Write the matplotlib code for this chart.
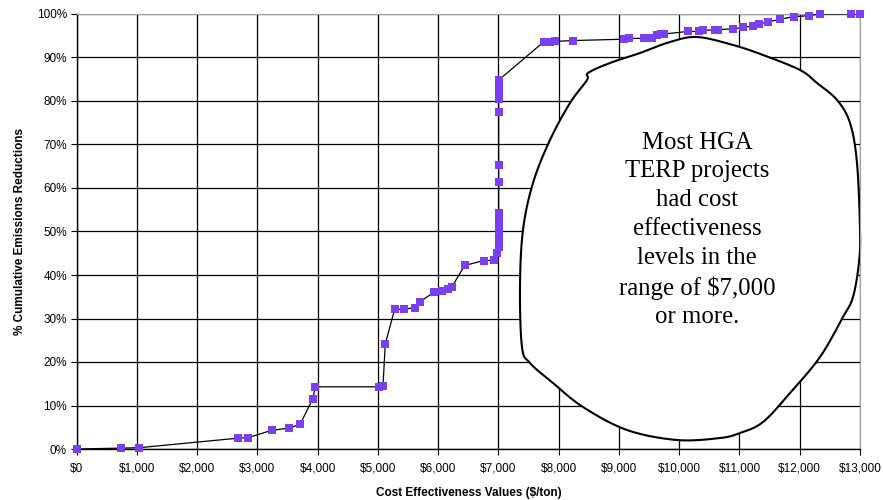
import numpy as np
import matplotlib.pyplot as plt
from matplotlib.path import Path
from matplotlib.patches import PathPatch

# --- data ---
cost = [0, 736, 1040, 2684, 2840, 3239, 3522, 3709, 3920, 3958,
        5010, 5083, 5121, 5276, 5425, 5608, 5703, 5924, 6063, 6156,
        6229, 6439, 6753, 6920, 6977,
        7003, 7003, 7003, 7003, 7003, 7003, 7003, 7003, 7003,
        7003, 7003, 7003, 7003, 7003,
        7751, 7850, 7945, 8239,
        9080, 9163, 9412, 9551, 9635, 9700, 9744,
        10150, 10320, 10400, 10600, 10640, 10900, 11050, 11230,
        11320, 11480, 11680, 11900, 12150, 12330, 12850, 13000]
pct = [0, 0.2, 0.3, 2.5, 2.6, 4.3, 4.8, 5.7, 11.6, 14.3,
       14.3, 14.4, 24.1, 32.1, 32.1, 32.5, 33.9, 36.0, 36.4, 36.7,
       37.3, 42.2, 43.3, 43.4, 45.0,
       46.5, 48.0, 49.5, 51.0, 52.5, 54.2, 61.4, 65.3, 77.5,
       80.5, 81.5, 82.5, 83.5, 84.8,
       93.6, 93.6, 93.7, 93.9,
       94.2, 94.4, 94.4, 94.5, 95.2, 95.3, 95.4,
       96.0, 96.0, 96.3, 96.3, 96.4, 96.6, 96.9, 97.3,
       97.7, 98.2, 98.8, 99.4, 99.6, 100, 100, 100]

x_ticks = np.arange(0, 13001, 1000)
x_labels = ["$0"] + [f"${v:,}" for v in x_ticks[1:]]
y_ticks = np.arange(0, 101, 10)
y_labels = [f"{v}%" for v in y_ticks]

note = ("Most HGA\nTERP projects\nhad cost\neffectiveness\n"
        "levels in the\nrange of $7,000\nor more.")

# outline of the hand-drawn bubble, figure pixels (x, y from top)
blob = [(697, 37), (733, 45), (763, 55), (800, 70), (817, 83), (837, 100),
        (850, 123), (857, 163), (860, 230), (859, 262), (853, 297),
        (843, 317), (820, 357), (790, 393), (763, 422), (740, 433),
        (720, 438), (677, 440), (627, 430), (583, 407), (553, 383),
        (530, 363), (522, 347), (520, 287), (523, 230), (533, 183),
        (550, 140), (570, 103), (587, 80), (588, 73), (610, 63),
        (640, 53), (670, 42)]

plt.rcParams["font.family"] = ["Liberation Sans", "DejaVu Sans"]

W, H = 883, 500
fig = plt.figure(figsize=(W / 100, H / 100), dpi=100)
ax = fig.add_axes([76.7 / W, 1 - 449 / H, (860 - 76.7) / W, (449 - 14) / H])

ax.plot(cost, pct, color="black", linewidth=0.9, zorder=3)
ax.plot(cost, pct, linestyle="none", marker="s", markersize=5.8,
        color="#7a3ff0", markeredgewidth=0, zorder=4, clip_on=False)

ax.set_xlim(0, 13000)
ax.set_ylim(0, 100)
ax.set_xticks(x_ticks)
ax.set_xticklabels(x_labels, fontsize=8.5)
ax.set_yticks(y_ticks)
ax.set_yticklabels(y_labels, fontsize=8.5)
ax.tick_params(axis="x", length=4, width=0.8, color="black", pad=6)
ax.tick_params(axis="y", length=4, width=0.8, color="black", pad=3)
ax.grid(True, color="black", linewidth=0.9)
ax.set_axisbelow(True)
for side in ["top", "right"]:
    ax.spines[side].set_color("#a0a0a0")
for side in ["left", "bottom"]:
    ax.spines[side].set_color("black")
    ax.spines[side].set_linewidth(1.0)

ax.set_xlabel("Cost Effectiveness Values ($/ton)", fontsize=8.5,
              fontweight="bold", labelpad=9)
ax.set_ylabel("% Cumulative Emissions Reductions", fontsize=8.5,
              fontweight="bold", labelpad=8)


# smooth closed curve through the bubble outline
def closed_spline(pts, n=12):
    p = np.array(pts, dtype=float)
    k = len(p)
    out = []
    for i in range(k):
        p0, p1, p2, p3 = p[i - 1], p[i], p[(i + 1) % k], p[(i + 2) % k]
        for t in np.linspace(0, 1, n, endpoint=False):
            t2, t3 = t * t, t * t * t
            out.append(0.5 * ((2 * p1) + (-p0 + p2) * t
                              + (2 * p0 - 5 * p1 + 4 * p2 - p3) * t2
                              + (-p0 + 3 * p1 - 3 * p2 + p3) * t3))
    out.append(out[0])
    return np.array(out)


outline = closed_spline(blob)
verts = np.column_stack([outline[:, 0] / W, 1 - outline[:, 1] / H])
patch = PathPatch(Path(verts), facecolor="white", edgecolor="black",
                  linewidth=1.5, transform=fig.transFigure, zorder=2.5,
                  clip_on=False)
ax.add_patch(patch)

fig.text(697 / W, 1 - 230 / H, note, ha="center", va="center",
         fontsize=17.8, family="Liberation Serif", linespacing=1.4,
         zorder=5)

fig.savefig("out.png", dpi=100)
